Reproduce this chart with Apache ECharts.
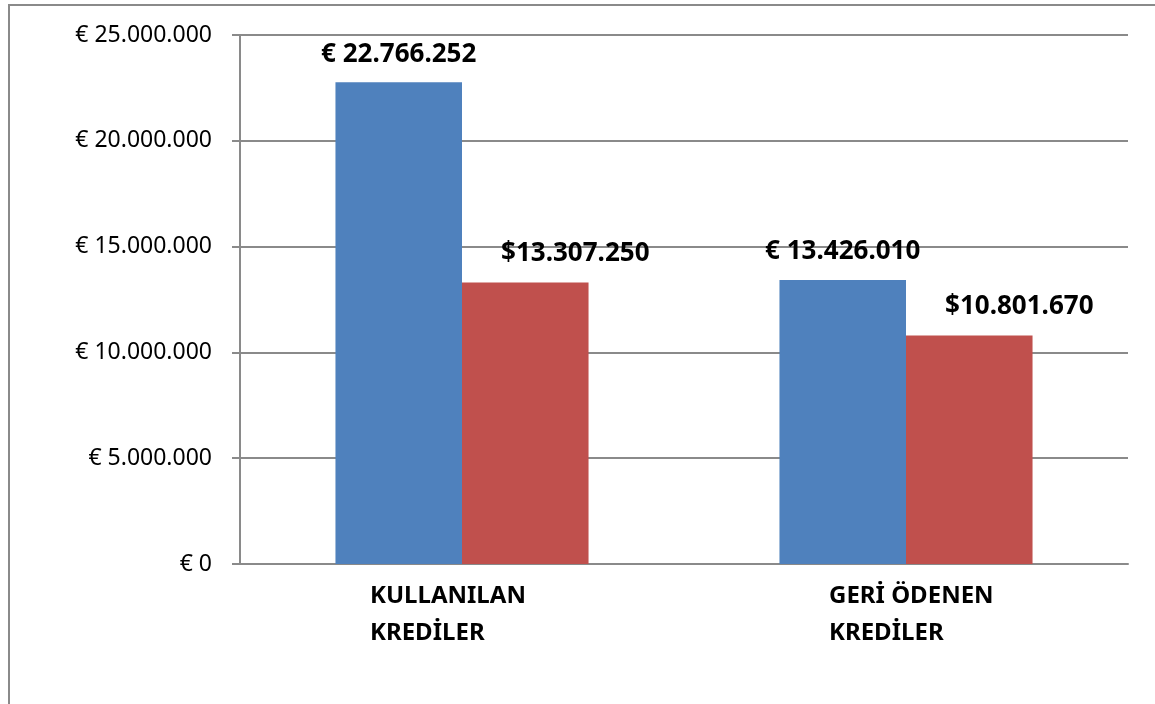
<!DOCTYPE html>
<html>
<head>
<meta charset="utf-8">
<style>
    html, body { margin: 0; padding: 0; background: #fff; }
    #frame { position: absolute; left: 8px; top: 4px; right: 0; bottom: 0; border-left: 2px solid #8a8a8a; border-top: 2px solid #8a8a8a; }
    #chart { position: absolute; left: 0; top: 0; width: 1155px; height: 704px; }
</style>
<script src="https://cdn.jsdelivr.net/npm/echarts@6/dist/echarts.min.js"></script>
</head>
<body>
<div id="frame"></div>
<div id="chart"></div>
<script>
    // veriler
    const categories = ['KULLANILAN\nKREDİLER', 'GERİ ÖDENEN\nKREDİLER'];
    const euroValues = [22766252, 13426010];
    const dollarValues = [13307250, 10801670];
    const yTicks = [0, 5000000, 10000000, 15000000, 20000000, 25000000];

    const fmt = function (v) {
        return String(v).replace(/\B(?=(\d{3})+(?!\d))/g, '.');
    };

    const chart = echarts.init(document.getElementById('chart'), null, {renderer: 'canvas'});

    const catFont = {
        fontFamily: 'Noto Sans',
        fontWeight: 'bold',
        fontSize: 24,
        color: '#000'
    };
    const valFont = {
        fontFamily: 'Noto Sans',
        fontWeight: 'bold',
        fontSize: 26,
        color: '#000'
    };

    chart.setOption({
        animation: false,
        grid: {
            left: 240,
            right: 27,
            top: 35,
            bottom: 140
        },
        xAxis: {
            type: 'category',
            data: categories,
            axisLine: { lineStyle: { color: '#8a8a8a', width: 2 } },
            axisTick: { show: false },
            axisLabel: {
                interval: 0,
                margin: 14,
                align: 'center',
                lineHeight: 37,
                formatter: function (v, i) {
                    return v.split('\n').map(function (s) { return '{c' + i + '|' + s + '}'; }).join('\n');
                },
                rich: {
                    c0: Object.assign({ width: 184, align: 'left', lineHeight: 37 }, catFont),
                    c1: Object.assign({ width: 154, align: 'left', lineHeight: 37 }, catFont)
                }
            }
        },
        yAxis: {
            type: 'value',
            min: yTicks[0],
            max: yTicks[yTicks.length - 1],
            interval: yTicks[1] - yTicks[0],
            axisLine: { show: true, lineStyle: { color: '#8a8a8a', width: 2 } },
            axisTick: { show: true, length: 8, lineStyle: { color: '#8a8a8a', width: 2 } },
            splitLine: { lineStyle: { color: '#8a8a8a', width: 2 } },
            axisLabel: {
                margin: 28,
                fontFamily: 'Noto Sans',
                fontSize: 23,
                color: '#000',
                formatter: function (v) { return '€ ' + fmt(v); }
            }
        },
        series: [
            {
                name: 'EUR',
                type: 'bar',
                data: euroValues,
                barGap: '0%',
                barCategoryGap: '43%',
                itemStyle: { color: '#4F81BD' },
                label: Object.assign({
                    show: true,
                    position: 'top',
                    distance: 15,
                    formatter: function (p) { return '€ ' + fmt(p.value); }
                }, valFont)
            },
            {
                name: 'USD',
                type: 'bar',
                data: dollarValues,
                itemStyle: { color: '#C0504D' },
                label: Object.assign({
                    show: true,
                    position: 'top',
                    distance: 16,
                    offset: [50, 0],
                    formatter: function (p) { return '$' + fmt(p.value); }
                }, valFont)
            }
        ]
    });
</script>
</body>
</html>
